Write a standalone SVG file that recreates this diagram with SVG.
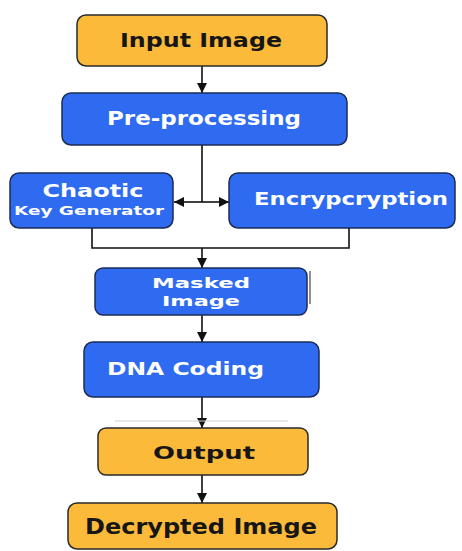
<svg xmlns="http://www.w3.org/2000/svg" width="462" height="551" viewBox="0 0 462 551">
  <defs>
    <marker id="arrow" viewBox="0 0 10 10" refX="10" refY="5" markerWidth="10" markerHeight="10" markerUnits="userSpaceOnUse" orient="auto">
      <path d="M0,0 L10,5 L0,10 z" fill="#111"/>
    </marker>
    <style>
      .yellow { fill: #FBBA3A; stroke: #2a2a2a; stroke-width: 1.5; }
      .blue { fill: #2E6BF0; stroke: #1c2c55; stroke-width: 1.5; }
      .dark { font-family: "DejaVu Sans", "Liberation Sans", sans-serif; font-weight: bold; fill: #161616; text-anchor: middle; }
      .light { font-family: "DejaVu Sans", "Liberation Sans", sans-serif; font-weight: bold; fill: #ffffff; text-anchor: middle; }
      .wire { fill: none; stroke: #111; stroke-width: 1.6; }
      .faint { fill: none; stroke: #cfcfcf; stroke-width: 1; }
    </style>
  </defs>
  <rect width="462" height="551" fill="#ffffff"/>

  <g id="connectors">
    <line class="wire" x1="202" y1="66" x2="202" y2="93" marker-end="url(#arrow)"/>
    <line class="wire" x1="202" y1="145" x2="202" y2="202"/>
    <line class="wire" x1="202" y1="202" x2="174" y2="202" marker-end="url(#arrow)"/>
    <line class="wire" x1="202" y1="202" x2="229" y2="202" marker-end="url(#arrow)"/>
    <polyline class="wire" points="92,228 92,248 349,248 349,228"/>
    <line class="wire" x1="202" y1="248" x2="202" y2="268" marker-end="url(#arrow)"/>
    <line class="wire" x1="202" y1="315" x2="202" y2="342" marker-end="url(#arrow)"/>
    <line class="wire" x1="202" y1="397" x2="202" y2="428" marker-end="url(#arrow)"/>
    <line class="wire" x1="202" y1="475" x2="202" y2="503" marker-end="url(#arrow)"/>
    <line class="faint" x1="115" y1="421" x2="288" y2="421"/>
    <line x1="310" y1="271" x2="310" y2="304" stroke="#444" stroke-width="1.2"/>
  </g>

  <g id="input-image">
    <rect class="yellow" x="77" y="15" width="250" height="51" rx="9"/>
    <text class="dark" x="201" y="47" font-size="19" textLength="162" lengthAdjust="spacingAndGlyphs">Input Image</text>
  </g>

  <g id="pre-processing">
    <rect class="blue" x="62" y="93" width="285" height="52" rx="9"/>
    <text class="light" x="204" y="125" font-size="19" textLength="194" lengthAdjust="spacingAndGlyphs">Pre-processing</text>
  </g>

  <g id="chaotic-key-generator">
    <rect class="blue" x="10" y="173" width="163" height="55" rx="9"/>
    <text class="light" x="93" y="197" font-size="17" textLength="101" lengthAdjust="spacingAndGlyphs">Chaotic</text>
    <text class="light" x="89" y="215" font-size="12" textLength="150" lengthAdjust="spacingAndGlyphs">Key Generator</text>
  </g>

  <g id="encryption">
    <rect class="blue" x="229" y="173" width="226" height="55" rx="9"/>
    <text class="light" x="351" y="205" font-size="17" textLength="194" lengthAdjust="spacingAndGlyphs">Encrypcryption</text>
  </g>

  <g id="masked-image">
    <rect class="blue" x="95" y="268" width="212" height="47" rx="8"/>
    <text class="light" x="201" y="288" font-size="14" textLength="98" lengthAdjust="spacingAndGlyphs">Masked</text>
    <text class="light" x="201" y="306" font-size="14" textLength="78" lengthAdjust="spacingAndGlyphs">Image</text>
  </g>

  <g id="dna-coding">
    <rect class="blue" x="84" y="342" width="235" height="55" rx="9"/>
    <text class="light" x="185.5" y="375" font-size="18" textLength="157" lengthAdjust="spacingAndGlyphs">DNA Coding</text>
  </g>

  <g id="output">
    <rect class="yellow" x="98" y="428" width="210" height="47" rx="8"/>
    <text class="dark" x="204" y="459" font-size="18" textLength="102" lengthAdjust="spacingAndGlyphs">Output</text>
  </g>

  <g id="decrypted-image">
    <rect class="yellow" x="68" y="503" width="269" height="46" rx="9"/>
    <text class="dark" x="201" y="534" font-size="21" textLength="232" lengthAdjust="spacingAndGlyphs">Decrypted Image</text>
  </g>
</svg>
